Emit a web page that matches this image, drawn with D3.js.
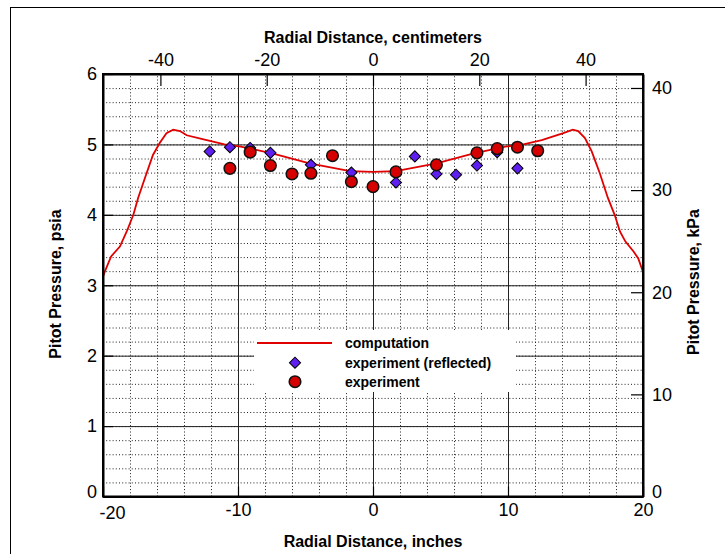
<!DOCTYPE html>
<html>
<head>
<meta charset="utf-8">
<title>Pitot Pressure</title>
<script src="https://d3js.org/d3.v7.min.js"></script>
<style>
  body { margin:0; background:#fff; }
  svg { font-family: "Liberation Sans", Arial, sans-serif; }
  .dotGrid line { stroke:#222; stroke-width:1; stroke-dasharray:1,2.2; }
  .dotGrid path, .solidGrid path { display:none; }
  .solidGrid line { stroke:#222; stroke-width:1; }
  .axis path { stroke:#000; stroke-width:2; }
  .axis line { stroke:#000; stroke-width:1.2; }
  .axis text { font-size:18px; fill:#000; }
  .title { font-size:16px; font-weight:bold; fill:#000; }
  .legend text { font-size:14px; font-weight:bold; fill:#000; }
</style>
</head>
<body>
<div id="chart"></div>
<script>
// computation (red line), inches vs psia
var compX = [-20, -19.85, -19.4, -18.75, -18.25, -17.75, -17.4, -16.9, -16.3, -15.8, -15.3, -14.8, -14.3, -13.8, -12.7, -11.0, -9.8, -7.4, -4.7, -1.7, 0,
             1.7, 4.7, 7.4, 9.8, 10.9, 12.5, 14.1, 14.8, 15.2, 15.7, 16.2, 16.8, 17.4, 17.9, 18.3, 18.7, 19.3, 19.65, 20];
var compY = [3.12, 3.2, 3.41, 3.55, 3.76, 4.00, 4.24, 4.52, 4.85, 5.02, 5.16, 5.21, 5.19, 5.13, 5.08, 5.00, 4.97, 4.87, 4.73, 4.62, 4.61,
             4.62, 4.73, 4.87, 4.97, 4.99, 5.06, 5.16, 5.21, 5.19, 5.09, 4.90, 4.59, 4.24, 4.00, 3.76, 3.62, 3.48, 3.38, 3.19];

// experiment (red circles)
var expX = [-10.6, -9.1, -7.6, -6.0, -4.6, -3.0, -1.6, 0, 1.7, 4.7, 7.7, 9.2, 10.7, 12.2];
var expY = [4.66, 4.89, 4.70, 4.58, 4.59, 4.84, 4.47, 4.40, 4.61, 4.71, 4.88, 4.94, 4.96, 4.91];

// experiment reflected (blue diamonds)
var reflX = [-12.1, -10.6, -9.1, -7.6, -4.6, -1.6, 1.7, 3.1, 4.7, 6.15, 7.7, 9.2, 10.7];
var reflY = [4.90, 4.96, 4.95, 4.88, 4.71, 4.60, 4.46, 4.83, 4.58, 4.57, 4.70, 4.89, 4.66];

var inchTicks = [-20, -10, 0, 10, 20];
var cmTicks = [-40, -20, 0, 20, 40];
var psiTicks = [0, 1, 2, 3, 4, 5, 6];
var kpaTicks = [0, 10, 20, 30, 40];
var legendLabels = ["computation", "experiment (reflected)", "experiment"];

var margin = { top: 74, left: 103 },
    width = 540,
    height = 422.5;

var svg = d3.select("#chart").append("svg")
    .attr("width", 725).attr("height", 554);

// outer frame of the figure
svg.append("rect").attr("x", 10.5).attr("y", 7.5).attr("width", 800).attr("height", 800)
    .attr("fill", "none").attr("stroke", "#000").attr("stroke-width", 1);

var g = svg.append("g").attr("transform", "translate(" + margin.left + "," + margin.top + ")");

var xScale = d3.scaleLinear().domain([-20, 20]).range([0, width]);
var cmScale = d3.scaleLinear().domain([-20 * 2.54, 20 * 2.54]).range([0, width]);
var yScale = d3.scaleLinear().domain([0, 6]).range([height, 0]);
var kpaScale = d3.scaleLinear().domain([0, 6 * 6.894757]).range([height, 0]);

var plain = function(d) { return String(d); };

// dotted grid
g.append("g").classed("dotGrid", true).attr("transform", "translate(0," + height + ")")
    .call(d3.axisBottom(xScale).tickValues(xScale.ticks(20)).tickSize(-height).tickFormat(""));
g.append("g").classed("dotGrid", true)
    .call(d3.axisLeft(yScale).tickValues(yScale.ticks(30)).tickSize(-width).tickFormat(""));

// solid grid on major ticks
g.append("g").classed("solidGrid", true).attr("transform", "translate(0," + height + ")")
    .call(d3.axisBottom(xScale).tickValues([-10, 0, 10]).tickSize(-height).tickFormat(""));
g.append("g").classed("solidGrid", true)
    .call(d3.axisLeft(yScale).tickValues([1, 2, 3, 4, 5]).tickSize(-width).tickFormat(""));

// legend background hides grid
var legX = 151, legY = 256;
g.append("rect").attr("x", legX).attr("y", legY).attr("width", 262).attr("height", 62).attr("fill", "#fff");

// computation line
var compData = compX.map(function(d, i) { return [d, compY[i]]; });
g.append("path").datum(compData)
    .attr("fill", "none").attr("stroke", "#e00000").attr("stroke-width", 1.8)
    .attr("d", d3.line().x(function(d) { return xScale(d[0]); }).y(function(d) { return yScale(d[1]); }));

// square turned 45 degrees
var diamond = d3.symbol().type(d3.symbolSquare).size(62);

g.selectAll(".refl").data(reflX).enter().append("path").classed("refl", true)
    .attr("d", diamond)
    .attr("transform", function(d, i) { return "translate(" + xScale(d) + "," + yScale(reflY[i]) + ") rotate(45)"; })
    .attr("fill", "#5f1ff0").attr("stroke", "#000").attr("stroke-width", 1);

g.selectAll(".exp").data(expX).enter().append("circle").classed("exp", true)
    .attr("cx", function(d) { return xScale(d); })
    .attr("cy", function(d, i) { return yScale(expY[i]); })
    .attr("r", 5.8)
    .attr("fill", "#d60000").attr("stroke", "#111").attr("stroke-width", 1.5);

// axes (ticks point inward)
var bottom = g.append("g").classed("axis", true).attr("transform", "translate(0," + height + ")");
bottom.call(d3.axisBottom(xScale).tickValues(xScale.ticks(20)).tickSize(-5).tickFormat(""));
bottom.call(d3.axisBottom(xScale).tickValues(inchTicks).tickSize(-10).tickSizeOuter(0).tickPadding(7).tickFormat(plain));
bottom.selectAll(".tick text").filter(function(d) { return d === -20; }).attr("dx", 9).attr("dy", "0.85em");

var left = g.append("g").classed("axis", true);
left.call(d3.axisLeft(yScale).tickValues(yScale.ticks(30)).tickSize(-5).tickFormat(""));
left.call(d3.axisLeft(yScale).tickValues(psiTicks).tickSize(-10).tickSizeOuter(0).tickPadding(6).tickFormat(plain));
left.selectAll(".tick text").filter(function(d) { return d === 0; }).attr("dy", "0.05em");

var top_ = g.append("g").classed("axis", true);
top_.call(d3.axisTop(cmScale).tickValues(cmScale.ticks(20)).tickSize(-5).tickFormat(""));
top_.call(d3.axisTop(cmScale).tickValues(cmTicks).tickSize(-12).tickSizeOuter(0).tickPadding(8).tickFormat(plain));

var right = g.append("g").classed("axis", true).attr("transform", "translate(" + width + ",0)");
right.call(d3.axisRight(kpaScale).tickValues(kpaScale.ticks(20)).tickSize(-6).tickFormat(""));
right.call(d3.axisRight(kpaScale).tickValues(kpaTicks).tickSize(-12).tickSizeOuter(0).tickPadding(9).tickFormat(plain));
right.selectAll(".tick text").filter(function(d) { return d === 0; }).attr("dy", "0.05em");

// plot frame
g.append("rect").attr("width", width).attr("height", height)
    .attr("fill", "none").attr("stroke", "#000").attr("stroke-width", 2);

// titles
svg.append("text").classed("title", true).attr("x", 373).attr("y", 43).attr("text-anchor", "middle")
    .text("Radial Distance, centimeters");
svg.append("text").classed("title", true).attr("x", 373).attr("y", 547).attr("text-anchor", "middle")
    .text("Radial Distance, inches");
svg.append("text").classed("title", true).attr("transform", "translate(61,284) rotate(-90)").attr("text-anchor", "middle")
    .text("Pitot Pressure, psia");
svg.append("text").classed("title", true).attr("transform", "translate(699,282) rotate(-90)").attr("text-anchor", "middle")
    .text("Pitot Pressure, kPa");

// legend
var legend = g.append("g").classed("legend", true);
var rowY = [269, 288.7, 307.7];
legend.append("line").attr("x1", 154).attr("x2", 229).attr("y1", rowY[0]).attr("y2", rowY[0])
    .attr("stroke", "#e00000").attr("stroke-width", 1.8);
legend.append("path").attr("d", diamond)
    .attr("transform", "translate(192," + rowY[1] + ") rotate(45)")
    .attr("fill", "#5f1ff0").attr("stroke", "#000").attr("stroke-width", 1);
legend.append("circle").attr("cx", 192).attr("cy", rowY[2]).attr("r", 5.8)
    .attr("fill", "#d60000").attr("stroke", "#111").attr("stroke-width", 1.5);
legend.selectAll("text").data(legendLabels).enter().append("text")
    .attr("x", 242).attr("y", function(d, i) { return rowY[i]; }).attr("dy", "0.35em")
    .text(function(d) { return d; });
</script>
</body>
</html>
